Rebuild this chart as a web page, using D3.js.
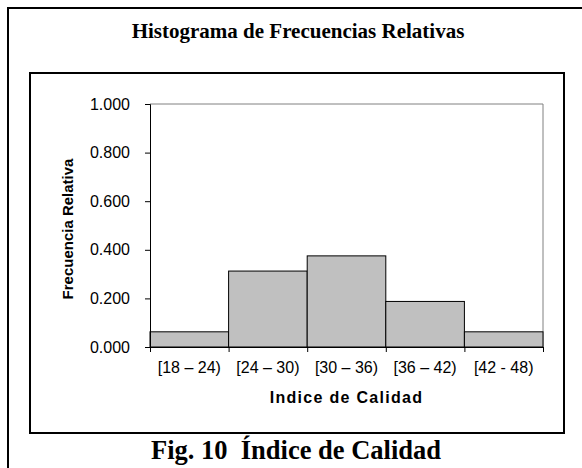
<!DOCTYPE html>
<html>
<head>
<meta charset="utf-8">
<script src="https://cdn.jsdelivr.net/npm/d3@7"></script>
<style>
  body { margin: 0; background: #fff; }
  svg { display: block; }
</style>
</head>
<body>
<script>
// categories and relative frequencies (n = 16)
var categories = ['[18 \u2013 24)', '[24 \u2013 30)', '[30 \u2013 36)', '[36 \u2013 42)', '[42 - 48)'];
var frecuencias = [0.0625, 0.3125, 0.375, 0.1875, 0.0625];
var yTicks = [0, 0.2, 0.4, 0.6, 0.8, 1.0];

var W = 582, H = 468;
var svg = d3.select('body').append('svg').attr('width', W).attr('height', H);

// outer frame (left + top only visible)
svg.append('path')
    .attr('d', 'M8,' + H + 'V8H' + W)
    .attr('fill', 'none')
    .attr('stroke', '#000')
    .attr('stroke-width', 2);

svg.append('text')
    .attr('x', 298)
    .attr('y', 38)
    .attr('text-anchor', 'middle')
    .style('font-family', '"Liberation Serif", "Times New Roman", serif')
    .style('font-weight', 'bold')
    .style('font-size', '21px')
    .text('Histograma de Frecuencias Relativas');

// chart frame
svg.append('rect')
    .attr('x', 30).attr('y', 73)
    .attr('width', 534).attr('height', 360)
    .attr('fill', '#fff')
    .attr('stroke', '#000')
    .attr('stroke-width', 2);

var pLeft = 150, pRight = 543, pTop = 104, pBottom = 347;

var x = d3.scaleBand().domain(categories).range([pLeft, pRight]).padding(0);
var xEdge = d3.scaleLinear().domain([0, categories.length]).range([pLeft, pRight]);
var y = d3.scaleLinear().domain([0, 1]).range([pBottom, pTop]);

// plot area border
svg.append('path')
    .attr('d', 'M' + pLeft + ',' + pTop + 'H' + pRight + 'V' + pBottom)
    .attr('fill', 'none')
    .attr('stroke', '#808080')
    .attr('stroke-width', 1);

svg.selectAll('rect.bar')
    .data(frecuencias)
    .enter()
    .append('rect')
    .attr('class', 'bar')
    .attr('x', function(d, i) { return x(categories[i]); })
    .attr('y', function(d) { return y(d); })
    .attr('width', x.bandwidth())
    .attr('height', function(d) { return pBottom - y(d); })
    .attr('fill', '#c0c0c0')
    .attr('stroke', '#000')
    .attr('stroke-width', 1);

var font = '"Liberation Sans", Arial, sans-serif';

var yAxis = svg.append('g')
    .attr('transform', 'translate(' + pLeft + ',0)')
    .call(d3.axisLeft(y).tickValues(yTicks).tickFormat(d3.format('.3f')).tickSize(5).tickPadding(15));
yAxis.select('.domain').attr('stroke', '#000');
yAxis.selectAll('text').style('font-family', font).style('font-size', '16px').attr('fill', '#000');

// ticks between categories
var xTickAxis = svg.append('g')
    .attr('transform', 'translate(0,' + pBottom + ')')
    .call(d3.axisBottom(xEdge).tickValues(d3.range(categories.length + 1)).tickFormat('').tickSize(5).tickSizeOuter(0));

var xAxis = svg.append('g')
    .attr('transform', 'translate(0,' + pBottom + ')')
    .call(d3.axisBottom(x).tickSize(0).tickPadding(15));
xAxis.select('.domain').remove();
xAxis.selectAll('text').style('font-family', font).style('font-size', '16px').attr('fill', '#000');

svg.append('text')
    .attr('x', (pLeft + pRight) / 2)
    .attr('y', 403)
    .attr('text-anchor', 'middle')
    .style('font-family', font)
    .style('font-weight', 'bold')
    .style('font-size', '16px')
    .style('letter-spacing', '1.3px')
    .text('Indice de Calidad');

svg.append('text')
    .attr('transform', 'translate(73,229) rotate(-90)')
    .attr('text-anchor', 'middle')
    .style('font-family', font)
    .style('font-weight', 'bold')
    .style('font-size', '15px')
    .text('Frecuencia Relativa');

svg.append('text')
    .attr('x', 296)
    .attr('y', 459)
    .attr('text-anchor', 'middle')
    .style('font-family', '"Liberation Serif", "Times New Roman", serif')
    .style('font-weight', 'bold')
    .style('font-size', '26.5px')
    .style('white-space', 'pre')
    .text('Fig. 10  \u00cdndice de Calidad');
</script>
</body>
</html>
